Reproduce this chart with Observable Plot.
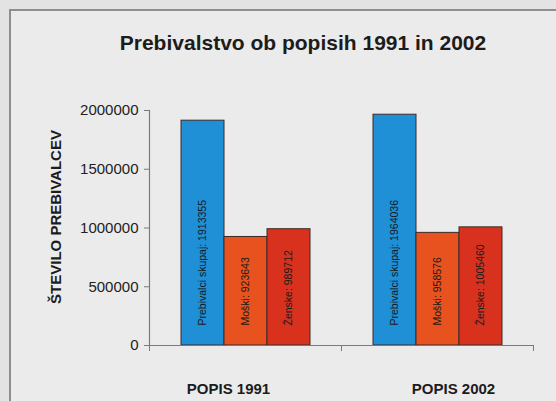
<!DOCTYPE html>
<html>
<head>
<meta charset="utf-8">
<script src="https://cdn.jsdelivr.net/npm/d3@7"></script>
<script src="https://cdn.jsdelivr.net/npm/@observablehq/plot@0.6"></script>
<style>
  body { margin: 0; background: #e3e3e3; }
  #wrap { position: relative; width: 556px; height: 401px; overflow: hidden; }
  #box { position: absolute; left: 9px; top: 9px; width: 620px; height: 460px;
         border-left: 2px solid #8e8e8e; border-top: 2px solid #8e8e8e; background: #ebebeb; }
  #title { position: absolute; left: 0; top: 31px; width: 606px; text-align: center;
           font: bold 21px 'Liberation Sans', Arial, sans-serif; line-height: 24px; color: #1c1c1c; }
  #chart { position: absolute; left: 0; top: 60px; }
</style>
</head>
<body>
<div id="wrap">
  <div id="box"></div>
  <div id="title">Prebivalstvo ob popisih 1991 in 2002</div>
  <div id="chart"></div>
</div>
<script>
const census = ["POPIS 1991", "POPIS 2002"];
const series = ["Prebivalci skupaj", "Moški", "Ženske"];
const total = [1913355, 1964036];
const men = [923643, 958576];
const women = [989712, 1005460];
const yTicks = [0, 500000, 1000000, 1500000, 2000000];
const colors = ["#1f8fd6", "#e8521e", "#d8321f"];
const yLabel = "ŠTEVILO PREBIVALCEV";

const data = census.flatMap((c, i) =>
  [[series[0], total[i]], [series[1], men[i]], [series[2], women[i]]]
    .map(([s, v]) => ({census: c, series: s, value: v, label: `${s}: ${v}`})));

const H = 341, MT = 50, MB = 56;
const innerH = H - MT - MB;
const axisColor = "#7a7a7a";

const catLabel = (c, dx) => Plot.text([c], {
  fx: d => d, frameAnchor: "bottom", text: d => d, textAnchor: "middle", lineAnchor: "bottom",
  dy: 48, dx, fontSize: 15, fontWeight: "bold", fill: "#1c1c1c"
});

const chart = Plot.plot({
  width: 556,
  height: H,
  marginTop: MT,
  marginBottom: MB,
  marginLeft: 148,
  marginRight: 23,
  style: {background: "transparent", fontFamily: "'Liberation Sans', Arial, sans-serif", color: "#222"},
  fx: {domain: census, padding: 0, axis: null},
  x: {domain: series, paddingInner: 0, paddingOuter: 0.72, axis: null},
  y: {domain: [0, 2000000], axis: null},
  color: {domain: series, range: colors},
  marks: [
    Plot.barY(data, {fx: "census", x: "series", y: "value", fill: "series", stroke: "#3b2b26", strokeWidth: 1}),
    Plot.ruleY([0], {stroke: axisColor, strokeWidth: 1.2}),
    Plot.frame({anchor: "left", facetAnchor: "left", stroke: axisColor, strokeWidth: 1.2}),
    Plot.frame({anchor: "left", insetTop: innerH, insetBottom: -5, stroke: axisColor}),
    Plot.frame({anchor: "right", insetTop: innerH, insetBottom: -5, stroke: axisColor}),
    Plot.axisY(yTicks, {tickSize: 5, tickPadding: 6, tickFormat: d => String(d), fontSize: 15, label: null, stroke: axisColor, fill: "#222"}),
    Plot.text(data, {fx: "census", x: "series", y: () => 0, text: "label", rotate: -90, textAnchor: "start", dy: -20, fontSize: 10.5, fill: "#1a1a1a"}),
    Plot.text([yLabel], {fx: () => census[0], frameAnchor: "left", text: d => d, textAnchor: "middle", rotate: -90, dx: -93, dy: -11, fontSize: 15, fontWeight: "bold", fill: "#1c1c1c"}),
    catLabel(census[0], -17),
    catLabel(census[1], 16)
  ]
});
document.getElementById("chart").appendChild(chart);
</script>
</body>
</html>
